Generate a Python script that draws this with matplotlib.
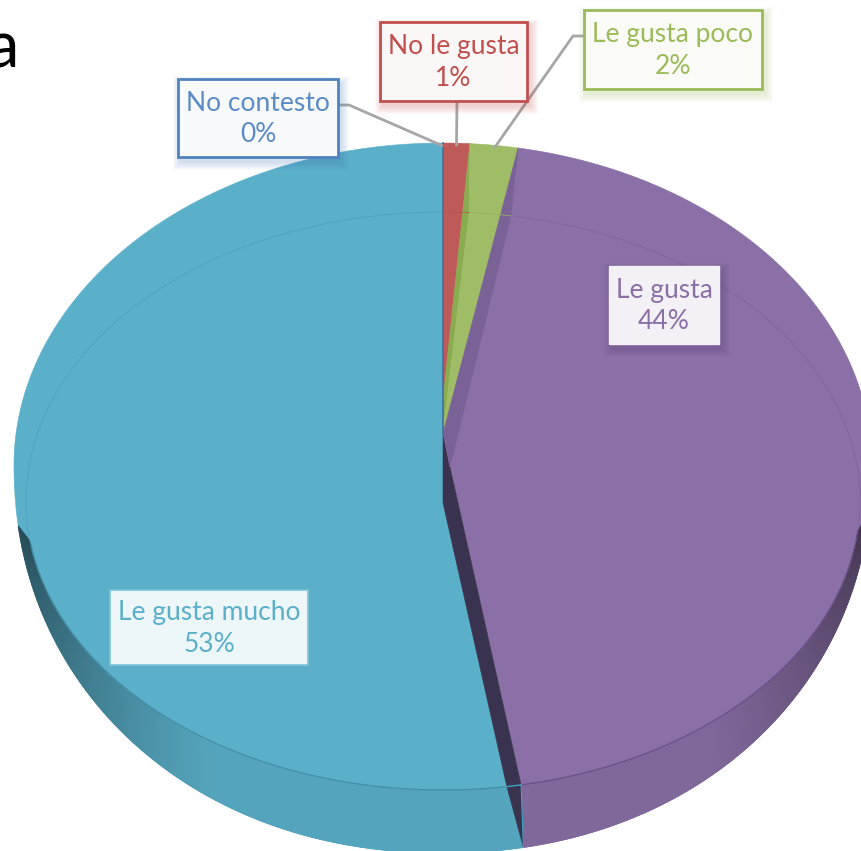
import numpy as np
import matplotlib
matplotlib.use("Agg")
import matplotlib.pyplot as plt
from matplotlib.patches import Polygon, Rectangle

plt.rcParams['font.family'] = ['Lato', 'DejaVu Sans']

categories = ["No contesto", "No le gusta", "Le gusta poco", "Le gusta", "Le gusta mucho"]
percent = [0, 1.0, 1.8, 44.2, 53.0]
top_colors = ["#3F72A8", "#BE5B58", "#9FBC67", "#8A70A7", "#5AAFC9"]
text_colors = ["#5B8BC6", "#C0504D", "#9BBB59", "#8A70A7", "#5AAFC9"]
box_faces = ["#F8F9FB", "#FAF7F6", "#FAFBF6", "#F3F0F6", "#EDF6F9"]
box_edges = ["#4F81BD", "#C0504D", "#9BBB59", "#F3F0F6", "#7CC3D8"]
box_widths = [2, 2, 2, 1, 1.2]
box_rects = [(178, 79, 338, 157), (380, 22, 527, 101), (584, 10, 762, 89),
             (609, 266, 719, 344), (110, 590, 308, 665)]

W, H = 862, 851
CX, RX_O, CY_O, RY_UP, RY_LOW, N_LOW = 443, 429, 465, 322, 388, 2.1
RX_I, CY_I, RY_I = 417, 501, 289
APEX_TOP, APEX_PURPLE, APEX_BLUE, APEX_RED = 433, (450, 467), 503, 400
WALL_R, WALL_L = 96, 262

fig = plt.figure(figsize=(W / 100, H / 100), dpi=100)
ax = fig.add_axes([0, 0, 1, 1])
ax.set_xlim(0, W)
ax.set_ylim(H, 0)
ax.axis("off")


def outer(t):
    t = np.radians(np.asarray(t, float))
    s, c = np.sin(t), np.cos(t)
    up = CY_O - RY_UP * np.abs(c)
    low = CY_O + RY_LOW * (1 - np.abs(s) ** N_LOW) ** (1 / N_LOW)
    return np.column_stack([CX + RX_O * s, np.where(c >= 0, up, low)])


def inner(t):
    t = np.radians(np.asarray(t, float))
    return np.column_stack([CX + RX_I * np.sin(t), CY_I - RY_I * np.cos(t)])


def shade(col, f):
    return tuple(np.array(matplotlib.colors.to_rgb(col)) * f)


edges = np.cumsum([0] + percent[:-1]) * 3.6
ends = np.cumsum(percent) * 3.6
t_zero, t_red, t_green, t_purple = ends[0], ends[1], ends[2], ends[3]
BLUE, PURPLE, GREEN, RED, ZERO = top_colors[4], top_colors[3], top_colors[2], top_colors[1], top_colors[0]


def poly(pts, color, z, lw=0.4):
    ax.add_patch(Polygon(pts, closed=True, facecolor=color, edgecolor=color, lw=lw, zorder=z))


# blue slice
arc = outer(np.linspace(t_purple, 360, 300))
blue_inner_end = t_purple + 2
poly(np.vstack([arc, [[CX, APEX_BLUE]], inner([blue_inner_end])]), BLUE, 2)
# purple slice
arc = outer(np.linspace(t_green, t_purple, 200))
poly(np.vstack([arc, inner([t_purple]), [APEX_PURPLE]]), PURPLE, 3)

# walls
th = np.linspace(t_purple, WALL_L, 120)
for a, b in zip(th[:-1], th[1:]):
    ia = a + 2 * (WALL_L - a) / (WALL_L - t_purple)
    ib = b + 2 * (WALL_L - b) / (WALL_L - t_purple)
    d = (WALL_L - a) / 50
    f = 0.42 + 0.52 * min(d, 1) ** 0.85
    poly(np.vstack([outer([a, b]), inner([ib, ia])]), shade(BLUE, f), 2.5, 0.6)
th = np.linspace(WALL_R, t_purple, 100)
for a, b in zip(th[:-1], th[1:]):
    d = (a - WALL_R) / 45
    f = 0.46 + 0.47 * min(d, 1) ** 0.85
    poly(np.vstack([outer([a, b]), inner([b, a])]), shade(PURPLE, f), 3.5, 0.6)

# dark cut between the two big slices
poly(np.vstack([[[CX, APEX_TOP]], [APEX_PURPLE], inner([t_purple]), outer([t_purple]),
                inner([blue_inner_end]), [[CX, APEX_BLUE]]]), "#3A3350", 4)

# small slices
poly(np.vstack([outer(np.linspace(0, t_red, 20)), [[CX, APEX_RED]]]), RED, 5)
arc = outer(np.linspace(t_red, t_green, 30))
poly(np.vstack([outer([t_red]), inner([t_red]), [[CX, APEX_TOP]], [[CX, APEX_RED]]]), "#89AC50", 5.5)
poly(np.vstack([arc, [[CX, APEX_TOP]], inner([t_red])]), GREEN, 6)
# dark purple side strip
poly(np.vstack([outer([t_green]), inner([t_green - 0.7]), [APEX_PURPLE], [[CX, APEX_TOP]]]), "#7A6196", 6.5)

# inner rim lines
ax.plot(*inner(np.linspace(t_green - 0.7, WALL_R, 100)).T, color="#7F669C", lw=0.7, zorder=7)
ax.plot(*inner(np.linspace(WALL_R, t_purple, 100)).T, color="#6A5288", lw=0.9, zorder=7)
ax.plot(*inner(np.linspace(blue_inner_end, WALL_L, 100)).T, color="#4490A8", lw=0.9, zorder=7)
ax.plot(*inner(np.linspace(WALL_L, 360, 100)).T, color="#51A3BC", lw=0.7, zorder=7)
ax.plot(*inner([t_purple, blue_inner_end]).T, color="#3FA3BC", lw=1, zorder=7)
ax.plot(*np.vstack([inner([t_purple]), outer([t_purple])]).T, color="#3FA3BC", lw=0.8, zorder=7)
ax.plot(*inner(np.linspace(0, t_red, 10)).T, color="#B25451", lw=0.6, zorder=7)
ax.plot(*inner(np.linspace(t_red, t_green - 0.7, 10)).T, color="#94B05D", lw=0.6, zorder=7)
# the 0 % slice
ax.plot([CX, CX], [outer([t_zero])[0, 1], APEX_TOP], color=ZERO, lw=1.2, zorder=7)

# leader lines
mids = (edges + ends) / 2
elbows = [(349, 105), None, (573, 36)]
anchors = [(338, 105), (457, 101), (584, 36)]
for i in range(3):
    p = outer([mids[i]])[0]
    pts = [anchors[i]] + ([elbows[i]] if elbows[i] else []) + [(p[0], p[1] + 3)]
    xs, ys = zip(*pts)
    ax.plot(xs, ys, color="#A6A6A6", lw=2, zorder=8, solid_capstyle="butt")

# labels
for name, val, tc, fc, ec, bw, (x0, y0, x1, y1) in zip(categories, percent, text_colors, box_faces, box_edges,
                                                       box_widths, box_rects):
    for k in range(8, 0, -1):
        ax.add_patch(Rectangle((x0 - k + 3, y0 - k + 5), x1 - x0 + 2 * k, y1 - y0 + 2 * k,
                               facecolor=ec if ec != box_faces[3] else "#55406F", edgecolor="none", alpha=0.03, zorder=9))
    ax.add_patch(Rectangle((x0, y0), x1 - x0, y1 - y0, facecolor=fc, edgecolor=ec, lw=bw, zorder=10))
    ax.text((x0 + x1) / 2, (y0 + y1) / 2 + 1, f"{name}\n{round(val)}%", color=tc, fontsize=19, ha="center", va="center",
            linespacing=1.33, zorder=11)

ax.text(19, 68, "a", color="black", fontsize=47, ha="right", va="baseline", zorder=12)

fig.savefig("out.png", dpi=100)
